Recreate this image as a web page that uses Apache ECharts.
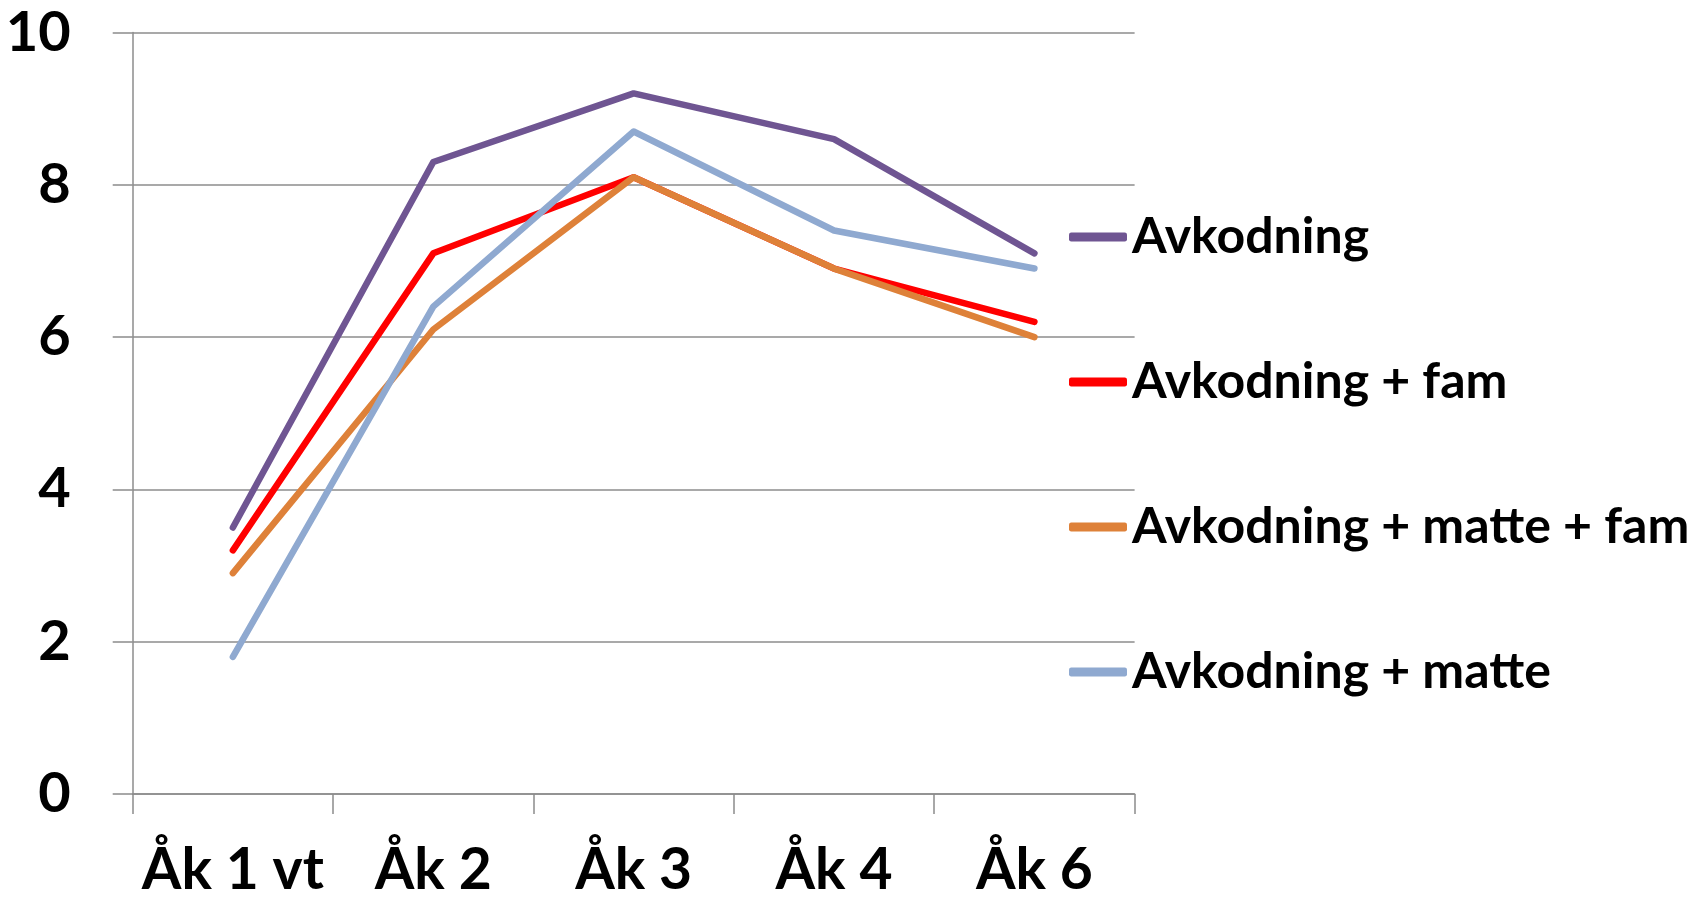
<!DOCTYPE html>
<html>
<head>
<meta charset="utf-8">
<script src="https://cdn.jsdelivr.net/npm/echarts@6/dist/echarts.min.js"></script>
<style>
html,body{margin:0;padding:0;background:#fff;}
#chart{width:1705px;height:904px;}
</style>
</head>
<body>
<div id="chart"></div>
<script>
const categories = ['Åk 1 vt', 'Åk 2', 'Åk 3', 'Åk 4', 'Åk 6'];
const seriesNames = ['Avkodning', 'Avkodning + fam', 'Avkodning + matte + fam', 'Avkodning + matte'];
const avkodning = [3.5, 8.3, 9.2, 8.6, 7.1];
const avkodningFam = [3.2, 7.1, 8.1, 6.9, 6.2];
const avkodningMatteFam = [2.9, 6.1, 8.1, 6.9, 6.0];
const avkodningMatte = [1.8, 6.4, 8.7, 7.4, 6.9];
const colors = ['#6F5592', '#FF0000', '#DE8139', '#8FA9D0'];

const allData = [avkodning, avkodningFam, avkodningMatteFam, avkodningMatte];
const font = 'Lato, "Open Sans", "Liberation Sans", sans-serif';
const gray = '#8C8C8C';

const chart = echarts.init(document.getElementById('chart'), null, {renderer: 'canvas'});
chart.setOption({
  backgroundColor: '#ffffff',
  animation: false,
  grid: {left: 132.7, right: 570.4, top: 32.5, bottom: 110, containLabel: false},
  legend: {
    orient: 'vertical',
    left: 1069,
    top: 212,
    padding: 0,
    icon: 'roundRect',
    itemWidth: 58,
    itemHeight: 9,
    itemGap: 95,
    data: seriesNames,
    textStyle: {fontFamily: font, fontWeight: 'bold', fontSize: 50, color: '#000', lineHeight: 50}
  },
  xAxis: {
    type: 'category',
    data: categories,
    boundaryGap: true,
    axisLine: {show: true, lineStyle: {color: gray, width: 1.5}},
    axisTick: {show: true, interval: 0, length: 20, inside: false, lineStyle: {color: gray, width: 1.5}},
    splitLine: {show: false},
    axisLabel: {interval: 0, margin: 48, fontFamily: font, fontWeight: 'bold', fontSize: 57, color: '#000'}
  },
  yAxis: {
    type: 'value',
    min: 0, max: 10, interval: 2,
    axisLine: {show: true, lineStyle: {color: gray, width: 1.5}},
    axisTick: {show: true, length: 20, inside: false, lineStyle: {color: gray, width: 1.5}},
    splitLine: {show: true, lineStyle: {color: gray, width: 1.5}},
    axisLabel: {margin: 62, fontFamily: font, fontWeight: 'bold', fontSize: 56, color: '#000'}
  },
  series: seriesNames.map((name, i) => ({
    name: name,
    type: 'line',
    data: allData[i],
    symbol: 'none',
    color: colors[i],
    lineStyle: {color: colors[i], width: 6.5, cap: 'round', join: 'round'},
    z: 2 + i
  }))
});
</script>
</body>
</html>
